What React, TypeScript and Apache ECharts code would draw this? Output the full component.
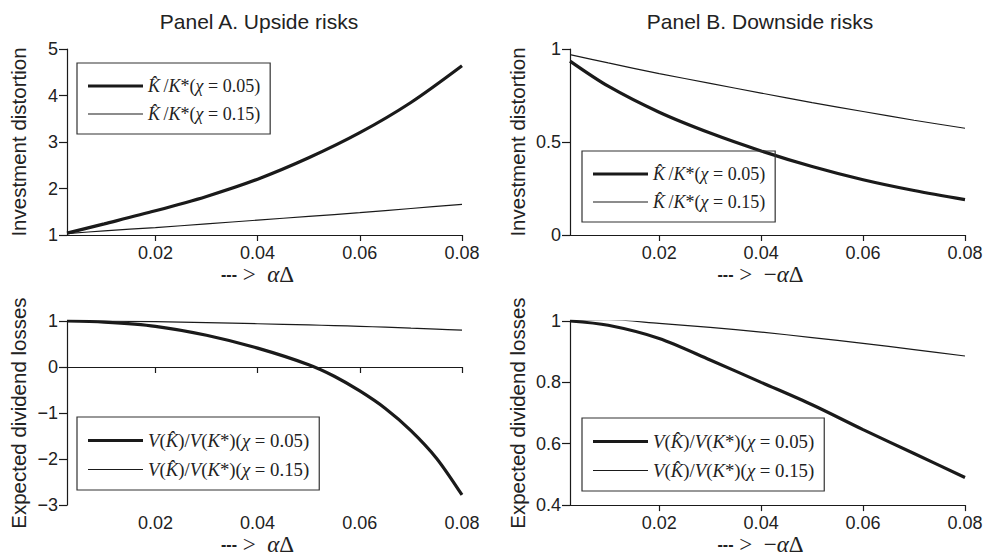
import React, { useEffect, useRef } from 'react';
import * as echarts from 'echarts';

// ---------- data ----------
const xTicks = [0.02, 0.04, 0.06, 0.08];

// Panel A (upside), investment distortion
const xInvA = [0.0027, 0.01, 0.02, 0.03, 0.04, 0.05, 0.06, 0.07, 0.08];
const invA05 = [1.04, 1.24, 1.52, 1.83, 2.2, 2.66, 3.2, 3.85, 4.64];
const invA15 = [1.03, 1.09, 1.16, 1.24, 1.32, 1.4, 1.48, 1.57, 1.66];

// Panel B (downside), investment distortion
const xInvB = [0.0025, 0.01, 0.02, 0.03, 0.04, 0.05, 0.06, 0.07, 0.08];
const invB05 = [0.935, 0.8, 0.66, 0.548, 0.452, 0.368, 0.297, 0.239, 0.19];
const invB15 = [0.97, 0.925, 0.868, 0.815, 0.763, 0.712, 0.664, 0.617, 0.574];

// Panel A (upside), expected dividend losses
const xDivA = [0.0027, 0.01, 0.02, 0.03, 0.04, 0.05, 0.055, 0.06, 0.065, 0.07, 0.075, 0.08];
const divA05 = [1.0, 0.975, 0.885, 0.69, 0.41, 0.05, -0.2, -0.52, -0.9, -1.38, -1.98, -2.78];
const divA15 = [1.01, 1.0, 0.985, 0.965, 0.94, 0.915, 0.9, 0.885, 0.865, 0.845, 0.825, 0.8];

// Panel B (downside), expected dividend losses
const xDivB = [0.0025, 0.01, 0.02, 0.03, 0.04, 0.05, 0.06, 0.07, 0.08];
const divB05 = [1.0, 0.986, 0.943, 0.873, 0.8, 0.727, 0.646, 0.568, 0.49];
const divB15 = [1.002, 1.004, 0.992, 0.979, 0.964, 0.946, 0.927, 0.907, 0.886];

const yTicksInvA = [1, 2, 3, 4, 5];
const yTicksInvB = [0, 0.5, 1];
const yTicksDivA = [-3, -2, -1, 0, 1];
const yTicksDivB = [0.4, 0.6, 0.8, 1];

const titles = ['Panel A. Upside risks', 'Panel B. Downside risks'];
const yNames = ['Investment distortion', 'Expected dividend losses'];

const K05 = 'K̂/K*(χ = 0.05)';
const K15 = 'K̂/K*(χ = 0.15)';
const V05 = 'V(K̂)/V(K*)(χ = 0.05)';
const V15 = 'V(K̂)/V(K*)(χ = 0.15)';

const legendRich: Record<string, string> = {
  [K05]: '{i|K̂}{n|\u2009/}{i|K}{n|*(}{i|χ}{n| = 0.05)}',
  [K15]: '{i|K̂}{n|\u2009/}{i|K}{n|*(}{i|χ}{n| = 0.15)}',
  [V05]: '{vi|V}{vn|(}{vi|K̂}{vn|)/}{vi|V}{vn|(}{vi|K}{vn|*)(}{vi|χ}{vn| = 0.05)}',
  [V15]: '{vi|V}{vn|(}{vi|K̂}{vn|)/}{vi|V}{vn|(}{vi|K}{vn|*)(}{vi|χ}{vn| = 0.15)}',
};

const pairs = (xs: number[], ys: number[]) => xs.map((x, i) => [x, ys[i]]);

const INK = '#1a1a1a';
const SANS = 'Liberation Sans, Arial, Helvetica, sans-serif';
const SERIF = 'Liberation Serif, Times New Roman, serif';
const THICK_ICON = 'path://M0,0H55V3.2H0Z';
const THIN_ICON = 'path://M0,0H55V1.2H0Z';

export default function App() {
  const ref = useRef<HTMLDivElement>(null);

  useEffect(() => {
    if (!ref.current) return;
    const chart = echarts.init(ref.current, null, { renderer: 'svg', width: 987, height: 557 });

    const grids = [
      { left: 67, top: 49, width: 395, height: 186 },
      { left: 570, top: 49, width: 395, height: 186 },
      { left: 67, top: 321, width: 395, height: 185 },
      { left: 570, top: 321, width: 395, height: 185 },
    ];

    const xMins = [xInvA[0], xInvB[0], xDivA[0], xDivB[0]];
    const xNames = [
      '{d|---}{m| >  }{a|α}{m|Δ}',
      '{d|---}{m| >  −}{a|α}{m|Δ}',
      '{d|---}{m| >  }{a|α}{m|Δ}',
      '{d|---}{m| >  −}{a|α}{m|Δ}',
    ];
    const xAxes = grids.map((_, i) => ({
      gridIndex: i,
      type: 'value',
      min: xMins[i],
      max: 0.08,
      axisLine: { show: true, lineStyle: { color: INK, width: 1.2 } },
      axisTick: { show: true, length: 6, customValues: xTicks, lineStyle: { color: INK, width: 1.2 } },
      axisLabel: {
        customValues: xTicks,
        margin: 9,
        fontSize: 18,
        fontFamily: SANS,
        color: '#222',
        formatter: (v: number) => v.toFixed(2),
      },
      splitLine: { show: false },
      name: xNames[i],
      nameLocation: 'middle',
      nameGap: 27,
      nameTextStyle: {
        padding: [0, 14, 0, 0],
        rich: {
          d: { fontFamily: SANS, fontWeight: 'bold', fontSize: 16, color: '#222' },
          m: { fontFamily: SERIF, fontSize: 23, color: '#222' },
          a: { fontFamily: SERIF, fontStyle: 'italic', fontSize: 23, color: '#222' },
        },
      },
    }));

    const yCfg = [
      { min: 1, max: 5, ticks: yTicksInvA, name: yNames[0], gap: 38 },
      { min: 0, max: 1, ticks: yTicksInvB, name: yNames[0], gap: 42 },
      { min: -3, max: 1, ticks: yTicksDivA, name: yNames[1], gap: 38 },
      { min: 0.4, max: 1, ticks: yTicksDivB, name: yNames[1], gap: 42 },
    ];
    const yAxes = yCfg.map((c, i) => ({
      gridIndex: i,
      type: 'value',
      min: c.min,
      max: c.max,
      axisLine: { show: true, lineStyle: { color: INK, width: 1.2 } },
      axisTick: { show: true, length: 8, customValues: c.ticks, lineStyle: { color: INK, width: 1.2 } },
      axisLabel: {
        customValues: c.ticks,
        margin: 9,
        fontSize: 18,
        fontFamily: SANS,
        color: '#222',
        formatter: (v: number) => String(Math.round(v * 10) / 10).replace('-', '−'),
      },
      splitLine: { show: false },
      name: c.name,
      nameLocation: 'middle',
      nameRotate: 90,
      nameGap: c.gap,
      nameTextStyle: { fontSize: 20.5, fontFamily: SANS, color: '#222' },
    }));

    const mk = (name: string, idx: number, xs: number[], ys: number[], thick: boolean) => ({
      type: 'line',
      name,
      xAxisIndex: idx,
      yAxisIndex: idx,
      data: pairs(xs, ys),
      smooth: 0.3,
      symbol: 'none',
      showSymbol: false,
      lineStyle: { color: INK, width: thick ? 3.2 : 1.2 },
      itemStyle: { color: INK },
      z: thick ? 3 : 2,
    });

    const series = [
      mk(K05, 0, xInvA, invA05, true),
      mk(K15, 0, xInvA, invA15, false),
      mk(K05, 1, xInvB, invB05, true),
      mk(K15, 1, xInvB, invB15, false),
      mk(V05, 2, xDivA, divA05, true),
      mk(V15, 2, xDivA, divA15, false),
      mk(V05, 3, xDivB, divB05, true),
      mk(V15, 3, xDivB, divB15, false),
    ];

    const richStyles = {
      i: { fontFamily: SERIF, fontStyle: 'italic', fontSize: 18, color: '#222', lineHeight: 20 },
      n: { fontFamily: SERIF, fontSize: 18, color: '#222', lineHeight: 20 },
      vi: { fontFamily: SERIF, fontStyle: 'italic', fontSize: 18.8, color: '#222', lineHeight: 20 },
      vn: { fontFamily: SERIF, fontSize: 18.8, color: '#222', lineHeight: 20 },
    };
    const legendBase = {
      orient: 'vertical',
      selectedMode: false,
      itemWidth: 55,
      itemHeight: 20,
      itemGap: 10,
      symbolKeepAspect: true,
      itemStyle: { color: INK, borderWidth: 0 },
      borderColor: '#333',
      borderWidth: 1.2,
      borderRadius: 0,
      padding: [14, 10, 11, 11],
      formatter: (n: string) => legendRich[n] || n,
      textStyle: { fontFamily: SERIF, fontSize: 18, color: '#222', rich: richStyles },
    };
    const legendData = (a: string, b: string) => [
      { name: a, icon: THICK_ICON },
      { name: b, icon: THIN_ICON },
    ];

    chart.setOption({
      animation: false,
      backgroundColor: '#ffffff',
      title: [
        { text: titles[0], left: 254, top: 6, textAlign: 'center', textStyle: { fontSize: 21, fontWeight: 'normal', fontFamily: SANS, color: '#222' } },
        { text: titles[1], left: 755, top: 6, textAlign: 'center', textStyle: { fontSize: 21, fontWeight: 'normal', fontFamily: SANS, color: '#222' } },
      ],
      legend: [
        { ...legendBase, data: legendData(K05, K15), left: 77, top: 63 },
        { ...legendBase, data: legendData(K05, K15), left: 582, top: 151 },
        { ...legendBase, data: legendData(V05, V15), left: 77, top: 417 },
        { ...legendBase, data: legendData(V05, V15), left: 582, top: 418 },
      ],
      grid: grids,
      xAxis: xAxes,
      yAxis: yAxes,
      series,
    });

    return () => chart.dispose();
  }, []);

  return (
    <div
      ref={ref}
      style={{ position: 'absolute', left: 0, top: 0, width: 987, height: 557, background: '#fff' }}
    />
  );
}
